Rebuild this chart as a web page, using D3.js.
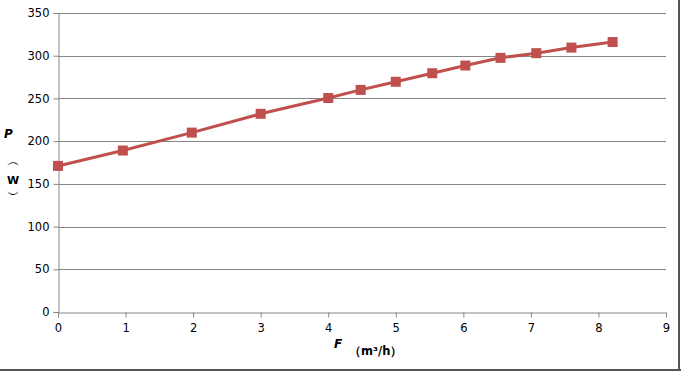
<!DOCTYPE html>
<html>
<head>
<meta charset="utf-8">
<script src="https://cdn.jsdelivr.net/npm/d3@7"></script>
<style>
  body { margin: 0; background: #fff; }
  text { font-family: "DejaVu Sans", Verdana, sans-serif; }
</style>
</head>
<body>
<div id="graph-container"></div>
<script>
const width = 681, height = 372;

// flow F (m³/h) and power P (W)
const flow = [0, 0.96, 1.98, 3.0, 4.0, 4.48, 5.0, 5.54, 6.03, 6.55, 7.08, 7.6, 8.21];
const power = [171, 189, 210, 232, 250.5, 260, 269.5, 279.5, 288.5, 297.5, 303, 309.5, 316];
const xTicks = [0, 1, 2, 3, 4, 5, 6, 7, 8, 9];
const yTicks = [0, 50, 100, 150, 200, 250, 300, 350];

const data = flow.map((f, i) => ({ f, p: power[i] }));

const x = d3.scaleLinear().domain([0, 9]).range([58, 666]);
const y = d3.scaleLinear().domain([0, 350]).range([312, 13]);

const svg = d3.create("svg")
  .attr("width", width)
  .attr("height", height)
  .attr("viewBox", [0, 0, width, height]);

// gridlines
svg.append("g")
  .selectAll("line")
  .data(yTicks.filter(d => d > 0))
  .join("line")
  .attr("x1", x(0)).attr("x2", x(9))
  .attr("y1", d => Math.round(y(d)) + 0.5)
  .attr("y2", d => Math.round(y(d)) + 0.5)
  .attr("stroke", "#868686");

// y axis
const gy = svg.append("g")
  .attr("transform", `translate(${x(0) + 0.5},0)`)
  .call(d3.axisLeft(y).tickValues(yTicks).tickSize(5).tickPadding(4));
gy.selectAll("line").attr("stroke", "#868686");
gy.select(".domain").attr("stroke", "#868686");
gy.selectAll("text").attr("font-size", 11.5).attr("fill", "#000")
  .attr("font-family", "DejaVu Sans, sans-serif");

// x axis
const gx = svg.append("g")
  .attr("transform", `translate(0,${Math.round(y(0)) + 0.5})`)
  .call(d3.axisBottom(x).tickValues(xTicks).tickSize(5).tickPadding(6));
gx.selectAll("line").attr("stroke", "#868686");
gx.select(".domain").attr("stroke", "#868686");
gx.selectAll("text").attr("font-size", 11.5).attr("fill", "#000")
  .attr("font-family", "DejaVu Sans, sans-serif");

// series line
const line = d3.line().x(d => x(d.f)).y(d => y(d.p));
svg.append("path")
  .datum(data)
  .attr("fill", "none")
  .attr("stroke", "#C0504D")
  .attr("stroke-width", 3)
  .attr("d", line);

svg.append("g")
  .selectAll("rect")
  .data(data)
  .join("rect")
  .attr("x", d => x(d.f) - 5)
  .attr("y", d => y(d.p) - 5)
  .attr("width", 10)
  .attr("height", 10)
  .attr("fill", "#C0504D");

// axis titles
svg.append("text")
  .attr("x", 4).attr("y", 138)
  .attr("font-size", 12).attr("font-weight", "bold").attr("font-style", "italic")
  .text("P");
svg.append("text")
  .attr("x", 13).attr("y", 166)
  .attr("text-anchor", "middle").attr("font-size", 13)
  .attr("font-family", "'Noto Sans CJK SC', sans-serif")
  .text("︵");
svg.append("text")
  .attr("x", 13).attr("y", 184)
  .attr("text-anchor", "middle").attr("font-size", 11).attr("font-weight", "bold")
  .text("W");
svg.append("text")
  .attr("x", 13).attr("y", 199)
  .attr("text-anchor", "middle").attr("font-size", 13)
  .attr("font-family", "'Noto Sans CJK SC', sans-serif")
  .text("︶");

svg.append("text")
  .attr("x", 334).attr("y", 348)
  .attr("font-size", 12).attr("font-weight", "bold").attr("font-style", "italic")
  .text("F");
svg.append("text")
  .attr("x", 349).attr("y", 355)
  .attr("font-size", 11.5).attr("font-weight", "bold")
  .attr("font-family", "'Noto Sans CJK SC', sans-serif")
  .text("（m³/h）");

// outer frame (right and bottom edge)
svg.append("line")
  .attr("x1", 679).attr("x2", 679).attr("y1", 0).attr("y2", 371)
  .attr("stroke", "#555").attr("stroke-width", 2);
svg.append("line")
  .attr("x1", 0).attr("x2", 681).attr("y1", 370).attr("y2", 370)
  .attr("stroke", "#555").attr("stroke-width", 2);

document.getElementById("graph-container").appendChild(svg.node());
</script>
</body>
</html>
